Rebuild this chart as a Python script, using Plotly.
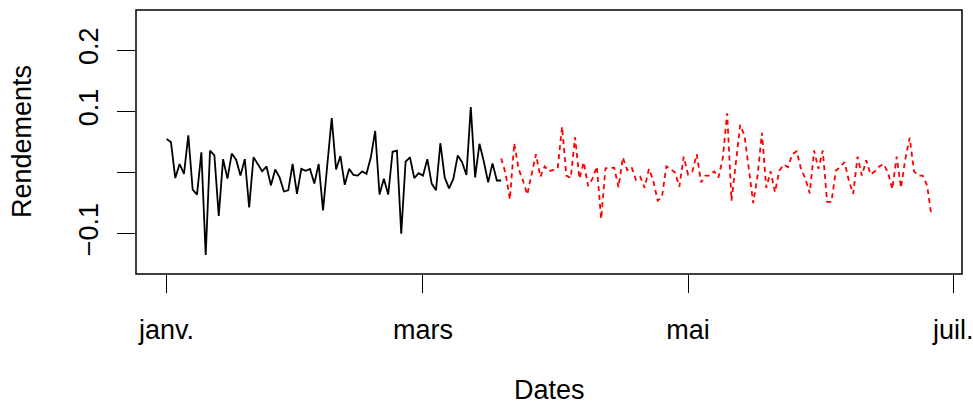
import pandas as pd
import plotly.graph_objects as go

start_date = "2021-01-01"

# Rendements (black, training part) — daily from 2021-01-01
black_values = [0.055, 0.050, -0.009, 0.014, -0.002, 0.061, -0.028, -0.036, 0.033, -0.135,
                0.036, 0.028, -0.071, 0.022, -0.010, 0.031, 0.021, -0.005, 0.022, -0.057,
                0.025, 0.014, 0.002, 0.010, -0.021, 0.005, -0.008, -0.031, -0.029, 0.014,
                -0.035, 0.006, 0.003, 0.006, -0.018, 0.014, -0.062, 0.014, 0.089, 0.005,
                0.027, -0.020, 0.006, -0.004, -0.005, 0.002, -0.002, 0.025, 0.068, -0.036,
                -0.010, -0.036, 0.034, 0.036, -0.100, 0.018, 0.025, -0.009, -0.001, -0.005,
                0.022, -0.018, -0.029, 0.048, -0.008, -0.026, -0.010, 0.028, 0.017, -0.004,
                0.107, -0.008, 0.047, 0.018, -0.016, 0.015, -0.013, -0.013]

# Rendements (red dashed, test part) — daily, starting on the last black date
red_values = [0.023, -0.001, -0.044, 0.048, 0.006, -0.013, -0.036, -0.005, 0.030, -0.007,
              0.010, 0.002, 0.005, 0.007, 0.075, -0.005, -0.009, 0.058, -0.010, 0.017,
              -0.022, -0.010, 0.010, -0.076, 0.007, 0.007, 0.008, -0.024, 0.025, 0.004,
              0.009, -0.012, -0.007, -0.025, 0.006, -0.013, -0.046, -0.040, 0.010, 0.006,
              0.000, -0.023, 0.026, -0.003, 0.002, 0.030, -0.016, -0.005, -0.005,
              0.002, -0.008, 0.024, 0.097, -0.046, 0.012, 0.078, 0.060, 0.009, -0.050,
              -0.005, 0.065, -0.025, 0.002, -0.032, 0.003, 0.013, 0.009, 0.030, 0.035,
              0.006, -0.010, -0.034, 0.036, 0.006, 0.036, -0.048, -0.048, 0.003, 0.009,
              0.017, -0.013, -0.035, 0.026, -0.005, 0.020, -0.003, 0.002, 0.010, 0.014,
              0.000, -0.027, 0.026, -0.025, 0.022, 0.057, 0.002, -0.005, -0.005, -0.021,
              -0.070]

x_tick_dates = ["2021-01-01", "2021-03-01", "2021-05-01", "2021-07-01"]
x_tick_labels = ["janv.", "mars", "mai", "juil."]
y_tick_vals = [-0.1, 0.0, 0.1, 0.2]
y_tick_labels = ["\u22120.1", "", "0.1", "0.2"]

t0 = pd.Timestamp(start_date)
black_dates = pd.date_range(t0, periods=len(black_values), freq="D")
red_dates = pd.date_range(black_dates[-1], periods=len(red_values), freq="D")

n_days = (red_dates[-1] - t0).days
ext = 0.04 * n_days
x_range = [t0 - pd.Timedelta(days=ext), red_dates[-1] + pd.Timedelta(days=ext)]
y_lo, y_hi = -0.15, 0.25
y_ext = 0.04 * (y_hi - y_lo)

FONT = "Liberation Sans, Arial, Helvetica, sans-serif"
FS = 27

fig = go.Figure()
fig.add_trace(go.Scatter(x=black_dates, y=black_values, mode="lines",
                         line=dict(color="#000000", width=1.8), showlegend=False))
fig.add_trace(go.Scatter(x=red_dates, y=red_values, mode="lines",
                         line=dict(color="#FF0000", width=1.8, dash="5px,4px"), showlegend=False))

fig.update_layout(
    width=973, height=406,
    margin=dict(l=136, r=11, t=10, b=132),
    paper_bgcolor="white", plot_bgcolor="white",
    font=dict(family=FONT, size=FS, color="black"),
    showlegend=False,
    xaxis=dict(type="date", range=x_range, tickvals=x_tick_dates, ticktext=x_tick_labels,
               ticks="outside", ticklen=18, tickwidth=1.2, tickcolor="black",
               showgrid=False, zeroline=False, showline=False, automargin=False,
               ticklabelstandoff=14, ticklabeloverflow="allow", tickfont=dict(size=FS)),
    yaxis=dict(range=[y_lo - y_ext, y_hi + y_ext], tickvals=y_tick_vals, ticktext=y_tick_labels,
               ticks="outside", ticklen=18, tickwidth=1.2, tickcolor="black",
               showgrid=False, zeroline=False, showline=False, tickangle=-90, automargin=False,
               ticklabelstandoff=8, ticklabeloverflow="allow", tickfont=dict(size=FS)),
    shapes=[dict(type="rect", xref="paper", yref="paper", x0=0, y0=0, x1=1, y1=1,
                 line=dict(color="black", width=1.5), layer="above")],
    annotations=[
        dict(text="Dates", xref="paper", yref="paper", x=0.5, y=-0.44,
             xanchor="center", yanchor="middle", showarrow=False, font=dict(size=FS)),
        dict(text="Rendements", xref="paper", yref="paper", x=-0.138, y=0.5,
             xanchor="center", yanchor="middle", textangle=-90, showarrow=False,
             font=dict(size=FS)),
    ],
)

fig.write_html("out.html", config={"displayModeBar": False},
               post_script="document.body.style.margin='0';document.body.style.padding='0';document.body.style.overflow='hidden';")
